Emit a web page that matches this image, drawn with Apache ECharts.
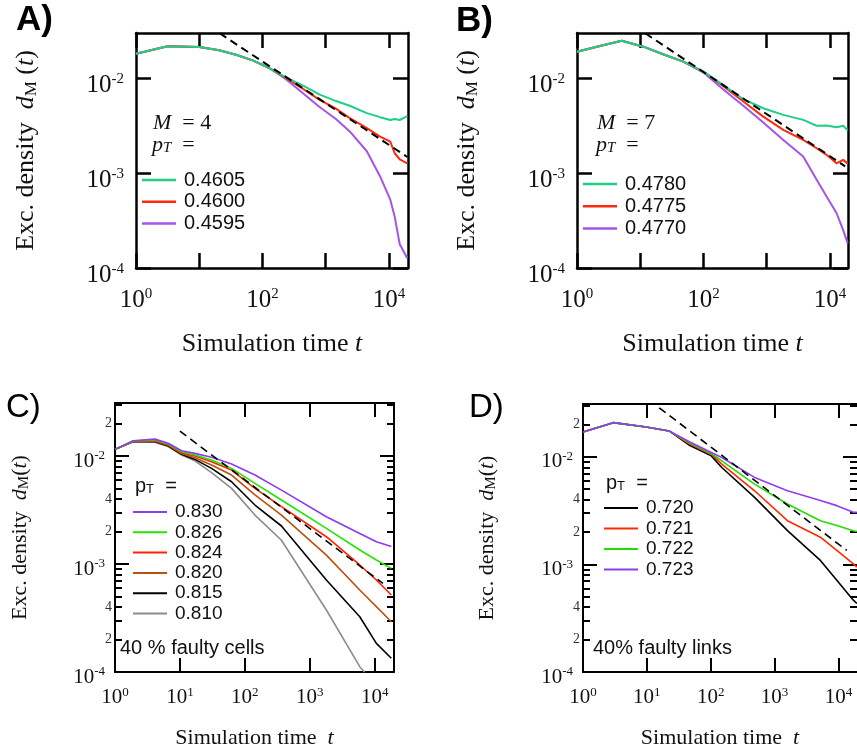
<!DOCTYPE html>
<html><head><meta charset="utf-8">
<script src="https://cdn.jsdelivr.net/npm/echarts@6/dist/echarts.min.js"></script>
<style>html,body{margin:0;padding:0;background:#fff}#c{width:857px;height:753px}</style>
</head><body><div id="c"></div>
<script>
// ---------- Panel A (M = 4) ----------
const tA = [1, 3.16, 10, 20.7, 38.1, 70, 128, 235, 432, 791, 1450, 2400, 4470, 7240, 10500, 12300, 14800, 19500];
const dA_4605 = [0.01815, 0.02173, 0.02133, 0.01972, 0.0177, 0.01545, 0.01282, 0.01023, 0.00841, 0.00676, 0.00575, 0.00513, 0.00429, 0.00389, 0.00363, 0.00372, 0.00363, 0.00398];
const dA_4600 = [0.01815, 0.02173, 0.02133, 0.01972, 0.0177, 0.01545, 0.01282, 0.01007, 0.00776, 0.00596, 0.00479, 0.0038, 0.00298, 0.00243, 0.00215, 0.00162, 0.0014, 0.00127];
const dA_4595 = [0.01815, 0.02173, 0.02133, 0.01972, 0.0177, 0.01545, 0.01282, 0.00977, 0.007, 0.00501, 0.00372, 0.00275, 0.0017, 0.000923, 0.000525, 0.00035, 0.000178, 0.000127];
const fitA_t = [21, 19500];
const fitA_d = [0.0298, 0.00148];

// ---------- Panel B (M = 7) ----------
const tB = [1, 2.3, 5.1, 11.2, 23, 48, 100, 204, 427, 883, 1830, 3780, 6170, 8850, 12700, 16200, 19100];
const dB_4780 = [0.01905, 0.02188, 0.02489, 0.02153, 0.01791, 0.01496, 0.01175, 0.00851, 0.00601, 0.00483, 0.00411, 0.00364, 0.00316, 0.00318, 0.00305, 0.00316, 0.00282];
const dB_4775 = [0.01905, 0.02188, 0.02489, 0.02153, 0.01791, 0.01496, 0.01175, 0.00832, 0.00568, 0.00394, 0.00286, 0.00224, 0.00183, 0.00156, 0.00127, 0.00138, 0.00126];
const dB_4770 = [0.01905, 0.02188, 0.02489, 0.02153, 0.01791, 0.01496, 0.01148, 0.00766, 0.00513, 0.00341, 0.00224, 0.0015, 0.000851, 0.000568, 0.00038, 0.000251, 0.000182];
const fitB_t = [12, 17400];
const fitB_d = [0.0298, 0.00118];

// ---------- Panel C (40 % faulty cells) ----------
const tC = [1, 1.91, 4.12, 6.61, 10.6, 17, 30.7, 62.4, 143, 366, 1800, 5880, 10600, 18000];
const dC_830 = [0.01153, 0.01387, 0.01435, 0.01312, 0.01119, 0.01059, 0.00973, 0.00843, 0.00667, 0.00484, 0.00274, 0.00192, 0.00161, 0.00145];
const dC_826 = [0.01153, 0.0138, 0.01413, 0.01291, 0.01096, 0.01021, 0.00919, 0.00769, 0.00558, 0.00392, 0.00214, 0.00135, 0.00109, 0.000912];
const dC_824 = [0.01153, 0.01374, 0.01393, 0.01274, 0.01076, 0.01, 0.00885, 0.00741, 0.00501, 0.0034, 0.00179, 0.00098, 0.000711, 0.000516];
const dC_820 = [0.01153, 0.01368, 0.01374, 0.01259, 0.01057, 0.00966, 0.00826, 0.00667, 0.00436, 0.00284, 0.00121, 0.000574, 0.000403, 0.000292];
const dC_815 = [0.01153, 0.01361, 0.01355, 0.01239, 0.01038, 0.00931, 0.00769, 0.00578, 0.00352, 0.00225, 0.000711, 0.000325, 0.000184, 0.000134];
const tC_810 = [1, 1.91, 4.12, 6.61, 10.6, 17, 30.7, 62.4, 143, 366, 1800, 5880, 7000];
const dC_810 = [0.01153, 0.01355, 0.01343, 0.01225, 0.01023, 0.00904, 0.00701, 0.00502, 0.00284, 0.00166, 0.000375, 0.000112, 0.0000995];
const fitC_t = [10, 13400];
const fitC_d = [0.017, 0.000662];

// ---------- Panel D (40% faulty links) ----------
const tD = [1, 2.98, 9.73, 22.3, 45.5, 102, 149, 486, 1590, 5210, 9420, 17100, 19400];
const dD_720 = [0.01702, 0.0208, 0.01897, 0.01742, 0.01291, 0.01021, 0.00796, 0.0042, 0.00206, 0.00109, 0.000711, 0.000465, 0.000433];
const dD_721 = [0.01702, 0.0208, 0.01897, 0.01742, 0.01327, 0.01059, 0.00855, 0.00484, 0.00255, 0.00179, 0.00135, 0.00101, 0.000944];
const dD_722 = [0.01702, 0.0208, 0.01897, 0.01742, 0.01358, 0.01074, 0.00919, 0.00558, 0.00365, 0.00255, 0.0023, 0.00206, 0.00202];
const dD_723 = [0.01702, 0.0208, 0.01897, 0.01742, 0.01387, 0.01096, 0.00986, 0.00644, 0.00484, 0.00392, 0.00352, 0.00305, 0.00305];
const fitD_t = [15.6, 13500];
const fitD_d = [0.0286, 0.00135];

// ---------- tick values ----------
const majX = [1, 10, 100, 1000, 10000];
const labX_AB = [1, 100, 10000];
const labX_CD = [1, 10, 100, 1000, 10000];
const majY = [0.0001, 0.001, 0.01];
const minY = [0.0002, 0.0003, 0.0004, 0.0005, 0.0006, 0.0007, 0.0008, 0.0009,
              0.002, 0.003, 0.004, 0.005, 0.006, 0.007, 0.008, 0.009, 0.02, 0.03];
const minYLab = [0.0002, 0.0004, 0.002, 0.004, 0.02];

const SERIF = 'Liberation Serif', SANS = 'Liberation Sans';
function powFmt(v) { return '{b|10}{s|' + Math.round(Math.log10(v)) + '}'; }
function digitFmt(v) { const e = Math.floor(Math.log10(v) + 1e-9); return String(Math.round(v / Math.pow(10, e))); }
const zip = (t, d) => t.map((x, i) => [x, d[i]]);

function labRich(fs, sfs) {
  return {
    b: { fontFamily: SERIF, fontSize: fs, lineHeight: fs + 2, color: '#111', fontWeight: 'normal' },
    s: { fontFamily: SERIF, fontSize: sfs, lineHeight: sfs, verticalAlign: 'top', color: '#111', fontWeight: 'normal' }
  };
}
function nameRich(fs, subfs) {
  return {
    r: { fontFamily: SERIF, fontSize: fs, lineHeight: fs + 2, color: '#111', fontWeight: 'normal' },
    i: { fontFamily: SERIF, fontSize: fs, fontStyle: 'italic', lineHeight: fs + 2, color: '#111', fontWeight: 'normal' },
    sub: { fontFamily: SERIF, fontSize: subfs, lineHeight: 8, verticalAlign: 'bottom', color: '#111', fontWeight: 'normal' }
  };
}

function xAxes(g, max, labVals, o) {
  const line = { show: true, lineStyle: { color: '#000', width: o.lw } };
  const tick = { show: true, inside: true, length: o.tl, customValues: majX, lineStyle: { color: '#000', width: o.lw } };
  return [{
    type: 'log', logBase: 10, gridIndex: g, min: 1, max: max, position: 'bottom',
    axisLine: line, axisTick: tick, splitLine: { show: false },
    axisLabel: { show: true, customValues: labVals, margin: o.xm, formatter: powFmt, fontFamily: SERIF, fontSize: o.fs, color: '#111', rich: labRich(o.fs, o.sfs) },
    name: o.xname, nameLocation: 'middle', nameGap: o.xgap, nameTextStyle: { fontFamily: SERIF, fontSize: o.nfs, rich: nameRich(o.nfs, o.nsub) }
  }, {
    type: 'log', logBase: 10, gridIndex: g, min: 1, max: max, position: 'top',
    axisLine: line, axisTick: tick, splitLine: { show: false }, axisLabel: { show: false }
  }];
}

function yAxes(g, max, o) {
  const line = { show: true, lineStyle: { color: '#000', width: o.lw } };
  const rline = { show: !o.hideRight, lineStyle: { color: '#000', width: o.lw } };
  const tick = { show: true, inside: true, length: o.tl, customValues: majY, lineStyle: { color: '#000', width: o.lw } };
  const base = { type: 'log', logBase: 10, gridIndex: g, min: 0.0001, max: max, splitLine: { show: false } };
  const arr = [Object.assign({}, base, {
    position: 'left', axisLine: line, axisTick: tick,
    axisLabel: { show: true, customValues: majY, margin: o.ym, padding: [o.ypad, 0, 0, 0], formatter: powFmt, fontFamily: SERIF, fontSize: o.fs, color: '#111', rich: labRich(o.fs, o.sfs) },
    name: o.yname, nameLocation: 'middle', nameRotate: 90, nameGap: o.ygap, nameTextStyle: { fontFamily: SERIF, fontSize: o.nfs, rich: nameRich(o.nfs, o.nsub) }
  })];
  if (o.minor) {
    arr.push(Object.assign({}, base, {
      position: 'left', axisLine: { show: false },
      axisTick: { show: true, inside: true, length: o.mtl, customValues: minY, lineStyle: { color: '#000', width: o.lw } },
      axisLabel: { show: true, customValues: minYLab, margin: 3, formatter: digitFmt, fontFamily: SERIF, fontSize: 14, color: '#333' }
    }));
  }
  arr.push(Object.assign({}, base, { position: 'right', axisLine: rline, axisTick: tick, axisLabel: { show: false } }));
  if (o.minor) {
    arr.push(Object.assign({}, base, {
      position: 'right', axisLine: { show: false },
      axisTick: { show: true, inside: true, length: o.mtl, customValues: minY, lineStyle: { color: '#000', width: o.lw } },
      axisLabel: { show: false }
    }));
  }
  return arr;
}

const optAB = { lw: 2.5, tl: 15, fs: 25, sfs: 15, xm: 19, ym: 12, ypad: 14, nfs: 26, nsub: 17,
  xname: '{r|Simulation time }{i|t}', xgap: 62,
  yname: '{r|Exc. density  }{i|d}{sub|M}{r| (}{i|t}{r|)}', ygap: 96 };
const optCD = { lw: 2, tl: 14, mtl: 7, fs: 21, sfs: 13, xm: 14, ym: 10, ypad: 10, nfs: 22, nsub: 15, minor: true,
  xname: '{r|Simulation time  }{i|t}', xgap: 54,
  yname: '{r|Exc. density  }{i|d}{sub|M}{r|(}{i|t}{r|)}', ygap: 83 };

const xAxis = [].concat(
  xAxes(0, 20000, labX_AB, optAB),
  xAxes(1, 19300, labX_AB, optAB),
  xAxes(2, 19800, labX_CD, optCD),
  xAxes(3, 19500, labX_CD, optCD)
);
const yAxis = [].concat(
  yAxes(0, 0.030, optAB),
  yAxes(1, 0.030, optAB),
  yAxes(2, 0.031, optCD),
  yAxes(3, 0.031, Object.assign({}, optCD, { ygap: 84, hideRight: true }))
);

function curve(name, t, d, color, xi, yi, w) {
  return { type: 'line', name, data: zip(t, d), xAxisIndex: xi, yAxisIndex: yi, symbol: 'none', showSymbol: false,
    lineStyle: { color, width: w, join: 'round' }, itemStyle: { color }, clip: true, animation: false };
}
function fitLine(id, t, d, xi, yi, w) {
  return { type: 'line', name: id, data: zip(t, d), xAxisIndex: xi, yAxisIndex: yi, symbol: 'none', showSymbol: false,
    lineStyle: { color: '#000', width: w, type: [8, 5] }, itemStyle: { color: '#000' }, clip: true, animation: false, silent: true, z: 5 };
}

const cGreenAB = '#1fcf85', cRedAB = '#ff2a0a', cPurpAB = '#a455e8';
const series = [
  curve('0.4595', tA, dA_4595, cPurpAB, 0, 0, 2),
  curve('0.4600', tA, dA_4600, cRedAB, 0, 0, 2),
  curve('0.4605', tA, dA_4605, cGreenAB, 0, 0, 2),
  fitLine('fitA', fitA_t, fitA_d, 0, 0, 2),
  curve('0.4770', tB, dB_4770, cPurpAB, 2, 2, 2),
  curve('0.4775', tB, dB_4775, cRedAB, 2, 2, 2),
  curve('0.4780', tB, dB_4780, cGreenAB, 2, 2, 2),
  fitLine('fitB', fitB_t, fitB_d, 2, 2, 2),
  curve('0.810', tC_810, dC_810, '#8c8c8c', 4, 4, 1.6),
  curve('0.815', tC, dC_815, '#000000', 4, 4, 1.6),
  curve('0.820', tC, dC_820, '#b8520f', 4, 4, 1.6),
  curve('0.824', tC, dC_824, '#ff2200', 4, 4, 1.6),
  curve('0.826', tC, dC_826, '#22e600', 4, 4, 1.6),
  curve('0.830', tC, dC_830, '#8a3cf0', 4, 4, 1.6),
  fitLine('fitC', fitC_t, fitC_d, 4, 4, 1.6),
  curve('0.720', tD, dD_720, '#000000', 6, 8, 1.6),
  curve('0.721', tD, dD_721, '#ff2a00', 6, 8, 1.6),
  curve('0.722', tD, dD_722, '#22dd00', 6, 8, 1.6),
  curve('0.723', tD, dD_723, '#8d3ff0', 6, 8, 1.6),
  fitLine('fitD', fitD_t, fitD_d, 6, 8, 1.6)
];

function legend(left, top, names, fs, gap, ih) {
  return { left, top, orient: 'vertical', padding: 0, icon: 'rect', itemWidth: 34, itemHeight: ih, itemGap: gap, selectedMode: false,
    data: names, textStyle: { fontFamily: SANS, fontSize: fs, lineHeight: 20, color: '#111', padding: [0, 0, 0, 3] } };
}

function txt(text, left, top, style) { return { text, left, top, padding: 0, textStyle: Object.assign({ fontWeight: 'normal' }, style) }; }
const serifRich = {
  i: { fontFamily: SERIF, fontSize: 22, fontStyle: 'italic', fontWeight: 'normal', lineHeight: 22, color: '#111' },
  r: { fontFamily: SERIF, fontSize: 22, fontWeight: 'normal', lineHeight: 22, color: '#111' },
  sub: { fontFamily: SERIF, fontSize: 15, fontStyle: 'italic', fontWeight: 'normal', lineHeight: 6, verticalAlign: 'bottom', color: '#111' }
};
const sansRich = {
  r: { fontFamily: SANS, fontSize: 20, fontWeight: 'normal', lineHeight: 20, color: '#111' },
  sub: { fontFamily: SANS, fontSize: 13, fontWeight: 'normal', lineHeight: 4, verticalAlign: 'bottom', color: '#111' }
};
const title = [
  txt('A)', 16, 3, { fontFamily: SANS, fontWeight: 'bold', fontSize: 35, color: '#000' }),
  txt('B)', 456, 4, { fontFamily: SANS, fontWeight: 'bold', fontSize: 35, color: '#000' }),
  txt('C)', 6, 391, { fontFamily: SANS, fontSize: 33, color: '#000' }),
  txt('D)', 469, 391, { fontFamily: SANS, fontSize: 33, color: '#000' }),
  txt('{i|M}{r|  = 4}', 153, 112, { rich: serifRich }),
  txt('{i|p}{sub|T}{r|  =}', 152, 134, { rich: serifRich }),
  txt('{i|M}{r|  = 7}', 597, 112, { rich: serifRich }),
  txt('{i|p}{sub|T}{r|  =}', 596, 134, { rich: serifRich }),
  txt('{r|p}{sub|T}{r|  =}', 135, 476, { rich: sansRich }),
  txt('{r|p}{sub|T}{r|  =}', 606, 473, { rich: sansRich }),
  txt('40 % faulty cells', 120, 638, { fontFamily: SANS, fontSize: 20, lineHeight: 20, color: '#111' }),
  txt('40% faulty links', 593, 638, { fontFamily: SANS, fontSize: 20, lineHeight: 20, color: '#111' })
];

const chart = echarts.init(document.getElementById('c'), null, { renderer: 'canvas' });
chart.setOption({
  animation: false,
  backgroundColor: '#fff',
  title,
  grid: [
    { left: 136, top: 33, width: 272, height: 235 },
    { left: 577, top: 33, width: 271, height: 235 },
    { left: 115, top: 403, width: 279, height: 269 },
    { left: 583, top: 404, right: -4, height: 268 }
  ],
  legend: [
    legend(142, 170, ['0.4605', '0.4600', '0.4595'], 20, 1.7, 2.5),
    legend(583, 174, ['0.4780', '0.4775', '0.4770'], 20, 2.3, 2.5),
    legend(133, 502, ['0.830', '0.826', '0.824', '0.820', '0.815', '0.810'], 19, 0.3, 2),
    legend(604, 498, ['0.720', '0.721', '0.722', '0.723'], 19, 0.5, 2)
  ],
  xAxis, yAxis, series
});
</script></body></html>
